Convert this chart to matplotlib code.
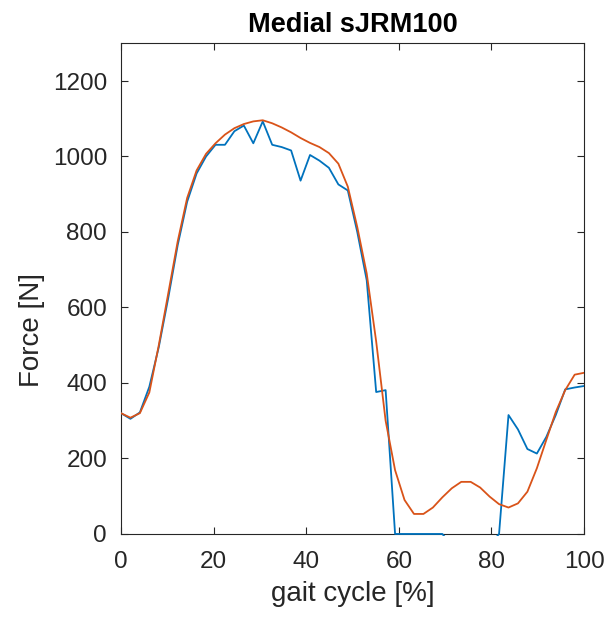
import numpy as np
import matplotlib

matplotlib.use('Agg')
import matplotlib.pyplot as plt
from matplotlib.patches import Rectangle

plt.rcParams['font.family'] = ['Liberation Sans', 'DejaVu Sans']

# 50 samples over the gait cycle
gait = np.linspace(0, 100, 50)

# measured medial contact force [N]
measured = [320, 305, 322, 390, 495, 625, 765, 880, 955, 1000,
            1031, 1031, 1067, 1082, 1035, 1093, 1031, 1025, 1016, 936,
            1004, 989, 970, 926, 910, 800, 672, 376, 381, 0,
            0, 0, 0, 0, 0, -30, -30, -30, -30, -30,
            0, 315, 277, 225, 213, 257, 315, 383, 388, 392]

# sJRM100 estimate [N]
estimated = [320, 308, 320, 375, 500, 637, 775, 890, 963, 1007,
             1035, 1058, 1075, 1086, 1093, 1096, 1088, 1077, 1064, 1049,
             1036, 1025, 1009, 981, 920, 813, 690, 510, 300, 169,
             90, 53, 53, 70, 97, 121, 138, 138, 123, 99,
             79, 70, 81, 112, 174, 249, 323, 381, 422, 427]

fig = plt.figure(figsize=(6.11, 6.18), dpi=100)
ax = fig.add_axes([0.198, 0.136, 0.758, 0.794])

l1, = ax.plot(gait, measured, color='#0072BD', linewidth=1.3, zorder=3)
l2, = ax.plot(gait, estimated, color='#D95319', linewidth=1.3, zorder=3)

# clip a hair below the box so the zero stretch keeps its full width
clip = Rectangle((0, -0.004), 1, 1.004, transform=ax.transAxes,
                 facecolor='none', edgecolor='none')
ax.add_patch(clip)
for ln in (l1, l2):
    ln.set_clip_path(clip)

ax.set_xlim(0, 100)
ax.set_ylim(0, 1300)
ax.set_xticks(np.arange(0, 101, 20))
ax.set_yticks(np.arange(0, 1201, 200))

axis_col = '#262626'
for sp in ax.spines.values():
    sp.set_color(axis_col)
    sp.set_linewidth(0.8)
ax.tick_params(direction='in', length=5, width=0.8, colors=axis_col,
               labelsize=17.5, top=True, right=True)
ax.tick_params(axis='x', pad=12)
ax.tick_params(axis='y', pad=10)

ax.set_xlabel('gait cycle [%]', fontsize=20, color=axis_col, labelpad=6)
ax.set_ylabel('Force [N]', fontsize=20, color=axis_col)
ax.yaxis.set_label_coords(-0.165, 0.415)
ax.set_title('Medial sJRM100', fontsize=19.5, fontweight='bold', pad=8)

fig.savefig('out.png', dpi=100)
